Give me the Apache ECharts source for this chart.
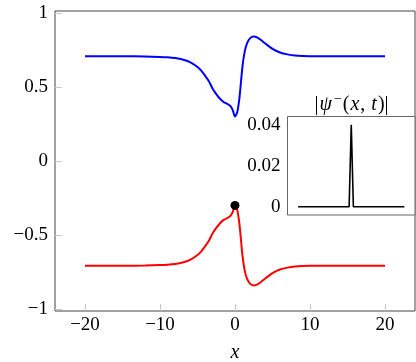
<!DOCTYPE html>
<html>
<head>
<meta charset="utf-8">
<script src="https://cdn.jsdelivr.net/npm/echarts@6/dist/echarts.min.js"></script>
<style>
  html, body { margin: 0; padding: 0; background: #fff; }
  #chart { width: 416px; height: 362px; }
</style>
</head>
<body>
<div id="chart"></div>
<script>
    // 主图数据
    const xs = [-20, -15, -12, -10, -9, -8, -7, -6, -5, -4.5, -4, -3.5, -3, -2.5, -2, -1.5, -1, -0.6, -0.3, 0,
                0.3, 0.6, 1, 1.3, 1.6, 2, 2.5, 3, 3.5, 4, 5, 6, 7, 8, 9, 10, 12, 15, 20]
    const blueY = [0.707, 0.707, 0.706, 0.703, 0.700, 0.695, 0.686, 0.668, 0.635, 0.610, 0.577, 0.540, 0.490, 0.452, 0.420, 0.398, 0.385, 0.370, 0.343, 0.300,
                   0.330, 0.430, 0.640, 0.740, 0.795, 0.828, 0.840, 0.833, 0.815, 0.795, 0.757, 0.733, 0.720, 0.712, 0.709, 0.708, 0.707, 0.707, 0.707]
    const redY = [-0.707, -0.707, -0.706, -0.703, -0.700, -0.695, -0.686, -0.668, -0.635, -0.610, -0.577, -0.540, -0.490, -0.452, -0.420, -0.398, -0.385, -0.370, -0.343, -0.300,
                  -0.330, -0.430, -0.640, -0.740, -0.795, -0.828, -0.840, -0.833, -0.815, -0.795, -0.757, -0.733, -0.720, -0.712, -0.709, -0.708, -0.707, -0.707, -0.707]
    const dotX = [0]
    const dotY = [-0.3]
    const xTicks = [-20, -10, 0, 10, 20]
    const yTicks = [-1, -0.5, 0, 0.5, 1]

    // 小图数据
    const insetX = [-20, -0.8, 0, 0.8, 20]
    const insetY = [0, 0, 0.04, 0, 0]
    const insetTicks = [0, 0.02, 0.04]

    const font = 'Liberation Serif'
    const fmt = function (v) { return String(v).replace('-', '\u2212') }
    const pairs = function (a, b) { return a.map(function (v, i) { return [v, b[i]] }) }
    const tickStyle = function (vals) {
        return { inside: true, length: 7, lineStyle: { color: '#c8c8c8' }, customValues: vals }
    }
    const labelStyle = function (vals, m) {
        return { margin: m, fontFamily: font, fontSize: 19, color: '#000', customValues: vals, formatter: fmt }
    }

    const chart = echarts.init(document.getElementById('chart'))
    chart.setOption({
        animation: false,
        backgroundColor: '#fff',
        grid: [
            { left: 55, top: 11, width: 360, height: 300, outerBoundsMode: 'none', containLabel: false,
              show: true, borderColor: '#444', borderWidth: 1 },
            { left: 287.5, top: 116.5, width: 127.5, height: 98.5, outerBoundsMode: 'none', containLabel: false,
              show: true, borderColor: '#666', borderWidth: 1, backgroundColor: '#fff', z: 5 }
        ],
        // 小图标题
        graphic: [{
            type: 'text',
            x: 351.5,
            y: 105,
            z: 10,
            style: {
                text: '{n||}{i|ψ}{s|−}{n|(}{i|x}{n|, }{i|t}{n|)|}',
                textAlign: 'center',
                textVerticalAlign: 'middle',
                rich: {
                    n: { fontFamily: font, fontSize: 20, fill: '#000' },
                    i: { fontFamily: font, fontSize: 20, fontStyle: 'italic', fill: '#000', padding: [0, 1, 0, 1] },
                    s: { fontFamily: font, fontSize: 14, fill: '#000', padding: [0, 1, 12, 1] }
                }
            }
        }],
        xAxis: [
            {
                type: 'value', gridIndex: 0, min: -24, max: 24,
                name: 'x', nameLocation: 'middle', nameGap: 32,
                nameTextStyle: { fontFamily: font, fontSize: 20, fontStyle: 'italic', color: '#000' },
                axisLine: { show: false, onZero: false },
                splitLine: { show: false },
                axisTick: tickStyle(xTicks),
                axisLabel: labelStyle(xTicks, 5)
            },
            {
                type: 'value', gridIndex: 1, min: -24, max: 24,
                axisLine: { show: false, onZero: false }, splitLine: { show: false },
                axisTick: { show: false }, axisLabel: { show: false }
            }
        ],
        yAxis: [
            {
                type: 'value', gridIndex: 0, min: -1.013, max: 1.013,
                axisLine: { show: false, onZero: false },
                splitLine: { show: false },
                axisTick: tickStyle(yTicks),
                axisLabel: labelStyle(yTicks, 7)
            },
            {
                type: 'value', gridIndex: 1, min: -0.004, max: 0.044,
                axisLine: { show: false, onZero: false },
                splitLine: { show: false },
                axisTick: tickStyle(insetTicks),
                axisLabel: labelStyle(insetTicks, 7)
            },
            {
                type: 'value', gridIndex: 1, min: -0.004, max: 0.044, position: 'right',
                axisLine: { show: false, onZero: false },
                splitLine: { show: false },
                axisTick: tickStyle(insetTicks),
                axisLabel: { show: false }
            }
        ],
        series: [
            {
                type: 'line', xAxisIndex: 0, yAxisIndex: 0, data: pairs(xs, blueY),
                showSymbol: false, smooth: 0.25,
                lineStyle: { color: '#0000ff', width: 2 }
            },
            {
                type: 'line', xAxisIndex: 0, yAxisIndex: 0, data: pairs(xs, redY),
                showSymbol: false, smooth: 0.25,
                lineStyle: { color: '#ff0000', width: 2 }
            },
            {
                type: 'scatter', xAxisIndex: 0, yAxisIndex: 0, data: pairs(dotX, dotY),
                symbolSize: 9, itemStyle: { color: '#000', opacity: 1 }, z: 4
            },
            {
                type: 'line', xAxisIndex: 1, yAxisIndex: 1, data: pairs(insetX, insetY),
                showSymbol: false, z: 6,
                lineStyle: { color: '#000', width: 1.6 }
            }
        ]
    })
</script>
</body>
</html>
